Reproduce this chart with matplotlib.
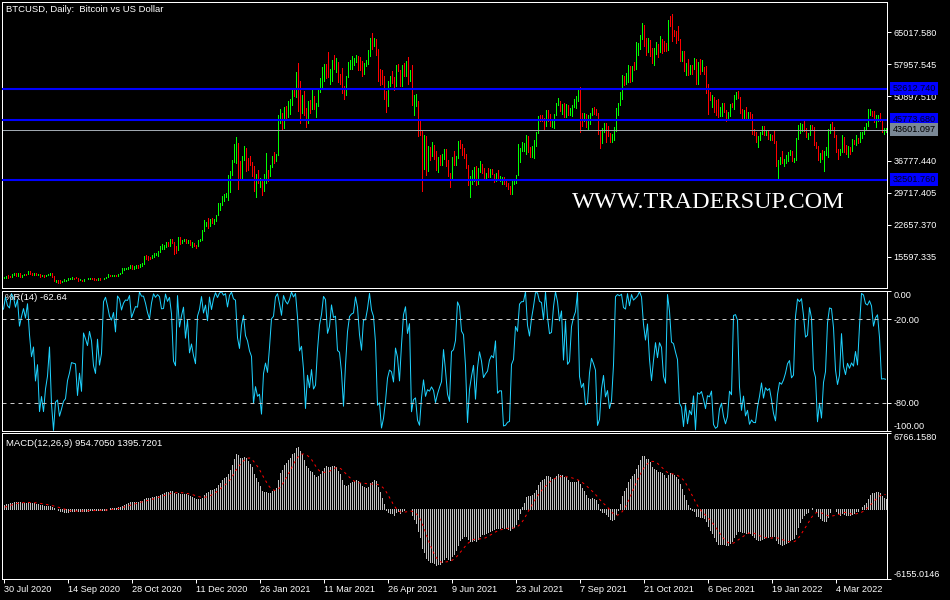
import numpy as np
import pandas as pd
import matplotlib
matplotlib.use("Agg")
import matplotlib.pyplot as plt
import matplotlib.transforms as mtransforms

plt.rcParams['font.family'] = ['Liberation Sans', 'DejaVu Sans']

# ---------------- data (prices in USD thousands, weekday bars) ----------------
start_date = '2020-06-29'      # first bar in data (earlier bars scrolled off the chart)
first_visible = '2020-07-30'   # first bar visible at the left edge
end_date = '2022-04-08'
first_open = 9.10

closes = [
    9.19, 9.14, 9.23, 9.09, 9.06,
    9.35, 9.25, 9.43, 9.23, 9.29,
    9.24, 9.25, 9.19, 9.13, 9.15,
    9.16, 9.39, 9.52, 9.58, 9.54,
    11.00, 10.92, 11.10,
    11.10, 11.35,
    11.23, 11.19, 11.75, 11.77, 11.60,
    11.88, 11.40, 11.58, 11.78, 11.77,
    12.30, 11.95, 11.76, 11.87, 11.55,
    11.75, 11.33, 11.47, 11.33, 11.54,
    11.66, 11.93, 11.40, 10.17, 10.48,
    10.38, 10.13, 10.24, 10.36, 10.40,
    10.68, 10.80, 10.96, 10.95, 10.94,
    10.42, 10.54, 10.24, 10.74, 10.69,
    10.71, 10.84, 10.78, 10.62, 10.57,
    10.79, 10.60, 10.67, 10.92, 11.06,
    11.54, 11.43, 11.43, 11.50, 11.32,
    11.75, 11.91, 12.82, 12.97, 13.03,
    13.07, 13.65, 13.28, 13.46, 13.56,
    13.55, 14.03, 14.14, 15.59, 15.58,
    15.33, 15.30, 15.70, 16.28, 16.32,
    16.72, 17.65, 17.80, 17.82, 18.68,
    18.41, 19.16, 18.73, 17.15, 17.14,
    19.70, 18.77, 19.20, 19.45, 18.70,
    19.17, 18.32, 18.55, 18.25, 18.04,
    19.27, 19.44, 21.35, 22.80, 23.15,
    22.72, 23.82, 23.24, 23.73, 24.71,
    27.04, 27.36, 28.89, 28.99, 29.40,
    31.97, 33.98, 36.82, 39.37, 40.67,
    35.54, 34.05, 37.39, 39.15, 36.82,
    36.63, 35.92, 35.50, 30.83, 33.00,
    32.10, 32.29, 30.43, 33.42, 34.26,
    33.52, 35.51, 37.47, 36.92, 38.28,
    46.45, 46.48, 44.84, 47.97, 47.38,
    47.98, 49.16, 52.15, 51.64, 55.89,
    54.09, 48.88, 49.76, 46.99, 46.14,
    49.60, 48.44, 50.35, 48.37, 48.76,
    52.37, 54.88, 55.96, 57.80, 57.24,
    55.61, 56.43, 58.96, 57.65, 58.03,
    54.53, 54.34, 52.30, 51.30, 55.19,
    57.63, 58.74, 58.92, 59.00, 59.69,
    58.97, 57.08, 56.00, 58.10, 58.10,
    59.83, 63.58, 62.96, 63.12, 61.39,
    56.15, 55.78, 53.74, 51.70, 51.16,
    54.02, 55.03, 54.82, 53.56, 57.75,
    56.63, 53.33, 57.38, 56.47, 57.35,
    55.86, 56.70, 49.15, 49.72, 49.88,
    43.54, 42.91, 37.00, 40.78, 37.30,
    38.70, 38.40, 39.29, 38.55, 35.66,
    37.34, 36.69, 37.57, 39.19, 36.85,
    33.56, 33.41, 37.35, 36.69, 37.34,
    40.22, 40.16, 38.35, 38.09, 35.82,
    31.62, 32.51, 33.69, 34.66, 31.64,
    34.44, 35.87, 35.04, 33.57, 33.90,
    33.80, 34.23, 33.86, 32.88, 33.82,
    32.73, 32.82, 32.82, 31.78, 31.42,
    30.84, 29.79, 32.11, 32.31, 33.58,
    37.30, 39.46, 40.02, 40.03, 42.24,
    39.15, 38.15, 39.75, 40.87, 42.84,
    46.28, 45.59, 45.57, 44.43, 47.82,
    45.95, 44.70, 44.80, 46.72, 49.34,
    49.50, 47.70, 48.99, 46.85, 49.07,
    46.99, 47.13, 48.82, 49.25, 49.95,
    52.70, 46.86, 46.07, 46.37, 44.85,
    44.96, 47.11, 48.14, 47.77, 47.30,
    43.01, 40.70, 43.58, 44.88, 42.84,
    42.17, 41.03, 41.52, 43.79, 48.14,
    49.25, 51.48, 55.33, 53.80, 53.97,
    57.47, 56.01, 57.37, 57.35, 61.67,
    62.01, 64.28, 66.00, 62.21, 60.69,
    63.09, 60.36, 58.48, 60.60, 62.24,
    61.00, 63.23, 62.94, 61.45, 61.01,
    67.55, 66.97, 64.95, 64.83, 64.16,
    63.56, 60.11, 60.37, 56.90, 58.12,
    56.29, 57.57, 57.16, 58.96, 53.73,
    57.81, 56.95, 57.18, 56.48, 53.60,
    50.58, 50.47, 50.58, 47.67, 47.14,
    46.70, 48.34, 48.86, 47.63, 46.20,
    46.88, 48.94, 48.63, 50.78, 50.82,
    50.64, 47.54, 46.46, 47.12, 46.20,
    46.46, 45.81, 43.43, 43.08, 41.56,
    41.82, 42.74, 43.92, 42.59, 43.10,
    42.25, 42.37, 41.66, 40.68, 36.46,
    36.65, 36.95, 36.81, 37.16, 37.71,
    38.48, 38.74, 36.95, 37.15, 41.50,
    43.84, 44.09, 44.34, 43.57, 42.41,
    42.55, 44.58, 43.96, 40.54, 40.00,
    37.02, 38.27, 37.27, 38.35, 39.23,
    43.19, 44.42, 43.92, 42.45, 39.15,
    38.02, 38.74, 41.98, 39.44, 38.79,
    39.67, 39.28, 41.14, 40.95, 41.80,
    41.02, 42.37, 42.90, 44.00, 44.33,
    47.14, 47.46, 47.07, 45.54, 46.28,
    46.62, 45.56, 43.17, 43.44, 43.60,
]

highs = [
    9.23, 9.20, 9.27, 9.28, 9.13,
    9.36, 9.37, 9.45, 9.44, 9.32,
    9.34, 9.28, 9.26, 9.21, 9.19,
    9.21, 9.42, 9.55, 9.62, 9.59,
    11.40, 11.24, 11.20,
    11.17, 11.45,
    11.48, 11.40, 11.80, 11.90, 11.92,
    12.05, 11.95, 11.65, 11.80, 11.85,
    12.45, 12.40, 12.02, 11.90, 11.90,
    11.80, 11.78, 11.53, 11.60, 11.55,
    11.80, 12.07, 11.95, 11.45, 10.55,
    10.40, 10.45, 10.35, 10.58, 10.41,
    10.80, 10.82, 11.10, 11.00, 11.05,
    10.98, 10.58, 10.55, 10.78, 10.78,
    10.95, 10.85, 10.85, 10.90, 10.62,
    10.80, 10.80, 10.70, 10.95, 11.10,
    11.70, 11.56, 11.55, 11.55, 11.55,
    11.80, 12.00, 13.20, 13.18, 13.05,
    13.25, 13.75, 13.85, 13.62, 13.67,
    13.82, 14.05, 14.25, 15.75, 15.95,
    15.85, 15.48, 15.97, 16.35, 16.48,
    16.82, 17.85, 18.48, 18.15, 18.80,
    18.77, 19.40, 19.50, 18.90, 17.85,
    19.85, 19.92, 19.30, 19.55, 19.50,
    19.38, 19.30, 18.80, 18.60, 18.25,
    19.35, 19.55, 21.55, 23.77, 23.28,
    24.10, 23.84, 24.10, 23.80, 24.80,
    27.50, 27.40, 28.95, 29.30, 29.60,
    33.60, 34.40, 36.94, 40.40, 41.95,
    38.30, 36.60, 37.80, 40.00, 39.60,
    37.30, 37.85, 36.40, 35.50, 33.80,
    34.80, 32.90, 32.60, 33.80, 38.50,
    34.70, 35.90, 37.70, 38.70, 38.30,
    46.80, 48.20, 47.30, 48.60, 48.80,
    49.90, 50.40, 52.30, 52.50, 56.30,
    58.35, 54.20, 51.30, 52.00, 48.30,
    49.80, 50.10, 52.60, 51.00, 49.50,
    52.40, 54.90, 57.40, 58.10, 58.00,
    60.60, 56.90, 58.98, 60.10, 59.40,
    58.40, 55.80, 57.20, 53.20, 55.30,
    58.40, 59.00, 59.80, 59.40, 60.10,
    59.90, 59.50, 58.70, 58.20, 58.90,
    61.20, 63.80, 64.80, 63.80, 63.55,
    57.50, 57.00, 56.70, 55.50, 52.10,
    54.30, 55.40, 56.40, 55.20, 57.90,
    58.00, 56.60, 57.80, 58.30, 58.60,
    59.50, 56.80, 57.80, 51.30, 51.50,
    45.80, 45.80, 43.50, 42.40, 42.20,
    39.90, 39.75, 40.80, 40.30, 38.80,
    37.50, 37.90, 38.20, 39.40, 39.30,
    36.80, 34.00, 37.50, 38.80, 37.70,
    41.00, 41.30, 40.50, 39.50, 38.20,
    35.70, 33.30, 34.80, 35.30, 35.50,
    35.20, 36.60, 36.00, 35.10, 33.95,
    35.10, 35.00, 35.00, 33.92, 34.10,
    34.60, 33.30, 33.10, 33.20, 32.25,
    31.90, 31.10, 32.80, 32.60, 33.60,
    40.50, 39.50, 40.90, 40.60, 42.30,
    40.40, 39.70, 39.90, 41.40, 43.00,
    46.50, 46.70, 46.80, 46.20, 47.90,
    47.20, 47.10, 46.00, 46.98, 49.40,
    50.50, 49.90, 49.30, 49.35, 49.15,
    48.90, 48.30, 48.90, 50.40, 51.00,
    52.80, 52.90, 47.30, 47.30, 47.00,
    46.70, 47.20, 48.40, 48.50, 48.10,
    47.30, 43.50, 44.00, 45.00, 45.00,
    44.40, 42.80, 42.60, 44.10, 48.40,
    49.50, 51.90, 55.70, 55.30, 56.10,
    57.80, 57.60, 57.60, 58.50, 62.80,
    62.60, 64.40, 67.00, 66.60, 63.70,
    63.70, 63.30, 61.50, 61.50, 62.90,
    62.40, 64.20, 63.50, 63.10, 62.60,
    67.80, 68.50, 69.00, 65.60, 65.40,
    66.30, 63.60, 60.80, 60.90, 58.30,
    59.20, 57.80, 57.90, 59.30, 59.20,
    58.50, 59.10, 59.00, 57.40, 57.60,
    51.00, 51.90, 51.20, 50.80, 50.00,
    50.30, 48.60, 49.50, 49.40, 47.90,
    47.50, 49.30, 49.50, 51.30, 51.80,
    52.00, 50.70, 48.10, 47.90, 48.50,
    47.50, 47.50, 47.00, 43.70, 43.10,
    42.20, 43.00, 44.30, 44.40, 43.40,
    43.20, 42.70, 42.50, 43.40, 41.10,
    36.90, 37.50, 38.90, 37.20, 38.00,
    38.70, 39.20, 38.80, 37.40, 41.70,
    44.50, 45.00, 44.80, 45.80, 43.90,
    42.80, 44.70, 44.60, 44.20, 40.90,
    39.50, 38.40, 39.20, 38.90, 39.70,
    43.80, 44.90, 45.30, 44.10, 42.50,
    39.40, 39.30, 42.40, 42.00, 40.20,
    39.90, 39.80, 41.50, 41.30, 42.30,
    41.50, 43.00, 42.95, 44.20, 45.00,
    48.20, 48.10, 47.70, 47.60, 46.70,
    46.90, 47.20, 45.60, 43.90, 43.97,
]

lows = [
    9.04, 9.09, 9.11, 9.05, 8.95,
    9.07, 9.21, 9.22, 9.17, 9.17,
    9.18, 9.16, 9.18, 9.09, 9.10,
    9.12, 9.15, 9.30, 9.46, 9.48,
    9.90, 10.60, 10.80,
    10.85, 10.98,
    11.00, 11.05, 11.12, 11.53, 11.40,
    11.45, 11.15, 11.15, 11.50, 11.62,
    11.85, 11.70, 11.55, 11.65, 11.52,
    11.50, 11.15, 11.26, 11.20, 11.30,
    11.55, 11.60, 11.21, 10.16, 9.98,
    9.90, 9.90, 10.10, 10.22, 10.20,
    10.40, 10.63, 10.70, 10.75, 10.82,
    10.35, 10.40, 10.20, 10.20, 10.60,
    10.65, 10.65, 10.65, 10.55, 10.40,
    10.55, 10.55, 10.58, 10.65, 10.85,
    11.30, 11.30, 11.30, 11.28, 11.25,
    11.40, 11.70, 11.90, 12.70, 12.85,
    12.85, 13.05, 12.95, 12.95, 13.15,
    13.20, 13.30, 13.55, 14.10, 15.20,
    14.80, 15.08, 15.28, 15.45, 15.95,
    15.85, 16.55, 17.25, 17.35, 17.75,
    18.00, 18.00, 18.55, 16.30, 16.50,
    18.20, 18.30, 18.55, 18.95, 18.60,
    18.90, 18.15, 17.65, 17.95, 17.60,
    19.00, 19.05, 19.30, 21.25, 22.35,
    22.00, 22.35, 23.10, 22.70, 23.45,
    26.20, 25.85, 27.00, 27.85, 28.70,
    28.13, 29.90, 33.50, 36.50, 36.30,
    30.40, 32.50, 32.40, 36.80, 34.40,
    34.80, 35.80, 33.40, 30.10, 28.85,
    31.90, 30.90, 29.25, 30.00, 31.90,
    32.30, 33.40, 35.40, 36.20, 36.60,
    38.00, 45.00, 43.80, 44.00, 46.20,
    46.40, 47.10, 49.00, 50.90, 50.80,
    47.70, 45.00, 47.20, 46.80, 44.10,
    45.00, 47.20, 48.10, 48.20, 46.30,
    49.30, 51.80, 53.00, 54.30, 55.00,
    55.10, 53.60, 54.20, 57.00, 56.30,
    54.10, 53.60, 51.70, 50.40, 51.30,
    55.60, 57.00, 56.90, 57.90, 58.50,
    56.80, 56.80, 55.50, 55.80, 57.70,
    59.30, 59.80, 61.30, 62.00, 60.00,
    54.20, 53.50, 53.60, 50.40, 47.50,
    48.80, 53.20, 53.90, 52.40, 53.10,
    56.40, 53.10, 53.10, 55.30, 55.40,
    53.60, 54.40, 48.90, 46.90, 48.80,
    42.20, 42.40, 30.00, 35.00, 33.60,
    34.50, 37.00, 37.80, 37.20, 34.70,
    34.20, 35.70, 35.90, 37.20, 35.60,
    33.40, 31.00, 32.40, 35.80, 35.70,
    38.80, 39.50, 38.10, 37.40, 35.20,
    31.30, 28.80, 31.70, 32.30, 31.30,
    33.90, 34.30, 34.00, 32.70, 32.70,
    33.20, 33.20, 33.80, 32.10, 32.30,
    32.70, 32.20, 31.60, 31.60, 31.20,
    30.50, 29.40, 29.50, 31.70, 31.90,
    35.20, 36.40, 38.80, 38.80, 38.30,
    38.70, 37.60, 37.50, 37.40, 39.90,
    43.10, 45.40, 45.40, 43.80, 44.40,
    45.50, 44.40, 44.20, 43.90, 46.70,
    49.00, 47.60, 47.10, 46.40, 46.40,
    46.90, 46.70, 46.60, 48.60, 48.40,
    51.00, 43.00, 44.40, 45.50, 44.20,
    43.40, 44.80, 46.80, 47.10, 46.80,
    42.60, 39.60, 40.60, 43.10, 40.80,
    42.10, 40.90, 40.80, 41.40, 43.20,
    46.90, 49.00, 50.40, 53.40, 53.70,
    54.50, 54.10, 54.40, 56.80, 56.90,
    60.00, 61.40, 63.50, 62.00, 60.00,
    60.70, 59.90, 58.20, 57.90, 60.20,
    59.50, 60.70, 60.40, 60.80, 60.80,
    63.20, 66.30, 63.00, 64.20, 62.60,
    63.30, 58.60, 58.60, 56.50, 55.60,
    55.70, 55.90, 55.90, 57.00, 53.60,
    56.90, 55.90, 56.60, 55.90, 51.70,
    47.10, 50.00, 48.60, 47.40, 46.90,
    46.30, 46.50, 46.60, 47.50, 45.50,
    45.60, 46.60, 48.50, 48.10, 50.40,
    50.50, 47.30, 46.10, 46.00, 45.70,
    45.70, 45.60, 42.70, 42.50, 40.90,
    39.70, 41.30, 42.60, 42.40, 42.30,
    41.60, 41.30, 41.20, 40.60, 35.60,
    33.00, 36.10, 36.30, 35.50, 36.20,
    36.70, 38.00, 36.60, 36.40, 37.00,
    41.90, 42.80, 43.20, 43.20, 42.00,
    41.60, 42.50, 43.40, 40.10, 39.50,
    36.80, 36.40, 37.10, 34.40, 38.00,
    37.50, 42.90, 43.40, 41.90, 38.70,
    37.20, 37.90, 38.60, 38.60, 38.30,
    37.60, 38.20, 38.90, 40.50, 40.20,
    40.60, 40.90, 41.80, 42.60, 43.60,
    46.60, 46.90, 46.50, 45.20, 44.20,
    45.50, 45.40, 43.00, 42.70, 43.10,
]

level_lines = [52612.740, 45773.680, 32501.760]
last_price = 43601.097
price_ticks = [65017.580, 57957.545, 50897.510, 36777.440, 29717.405, 22657.370, 15597.335]
price_range = (8705.0, 71689.0)
date_label_days = ['2020-07-30', '2020-09-14', '2020-10-28', '2020-12-11', '2021-01-26',
                   '2021-03-11', '2021-04-26', '2021-06-09', '2021-07-23', '2021-09-07',
                   '2021-10-21', '2021-12-06', '2022-01-19', '2022-03-04']
wpr_ticks = [0, -20, -80, -100]
wpr_levels = [-20, -80]
macd_range = (-6155.0146, 6766.1580)

title = "BTCUSD, Daily:  Bitcoin vs US Dollar"
wpr_title = "%R(14) -62.64"
macd_title = "MACD(12,26,9) 954.7050 1395.7201"
watermark = "WWW.TRADERSUP.COM"

# ---------------- derived series ----------------
c = np.array(closes) * 1000
h = np.array(highs) * 1000
l = np.array(lows) * 1000
o = np.concatenate([[first_open * 1000], c[:-1]])
dates = pd.bdate_range(start_date, end_date)
x = np.arange(len(c))
x0 = dates.get_loc(pd.Timestamp(first_visible))

cs = pd.Series(c)
macd = cs.ewm(span=12, adjust=False).mean() - cs.ewm(span=26, adjust=False).mean()
signal = macd.rolling(9, min_periods=1).mean()
hh = pd.Series(h).rolling(14, min_periods=1).max()
ll = pd.Series(l).rolling(14, min_periods=1).min()
wpr = -100 * (hh - cs) / (hh - ll)

# ---------------- figure ----------------
W, H = 950, 600
fig = plt.figure(figsize=(W / 100, H / 100), dpi=100, facecolor='black')

def panel(top, bottom, left=2, right=887):
    return fig.add_axes([left / W, 1 - bottom / H, (right - left) / W, (bottom - top) / H])

ax1 = panel(2, 288)
ax2 = panel(291, 431)
ax3 = panel(433, 579)
PX = 0.72
for ax in (ax1, ax2, ax3):
    ax.set_facecolor('black')
    for s in ax.spines.values():
        s.set_color('white')
        s.set_linewidth(PX)
    ax.set_xlim(x0 - 0.75, x0 + 441.75)
    ax.yaxis.tick_right()
    ax.tick_params(axis='y', colors='white', labelcolor='white', labelsize=6.6,
                   length=3, width=PX, pad=1.5, direction='out')
    ax.tick_params(axis='x', bottom=False, labelbottom=False)

# candles
UP = (0.0, 1.0, 0.0, 1.0)
DN = (1.0, 0.0, 0.0, 1.0)
col = [UP if ci >= oi else DN for ci, oi in zip(c, o)]
ax1.vlines(x, l, h, colors=col, linewidth=PX, antialiased=False)
ax1.vlines(x, np.minimum(o, c), np.maximum(o, c), colors=col, linewidth=PX, antialiased=False)
ax1.set_ylim(*price_range)
ax1.set_yticks(price_ticks)
ax1.set_yticklabels([f'{v:.3f}' for v in price_ticks])

trans = mtransforms.blended_transform_factory(ax1.transAxes, ax1.transData)
for lv in level_lines:
    ax1.axhline(lv, color='#0000FF', linewidth=1.5, zorder=3)
    ax1.text(1.0062, lv, f'{lv:.3f}', transform=trans, ha='left', va='center',
             fontsize=6.6, color='#000022', clip_on=False, zorder=6,
             bbox=dict(boxstyle='square,pad=0.22', fc='#0000FF', ec='none'))
ax1.axhline(last_price, color='#A0A8B0', linewidth=PX, zorder=2)
ax1.text(1.0062, last_price, f'{last_price:.3f}', transform=trans, ha='left', va='center',
         fontsize=6.6, color='#000000', clip_on=False, zorder=6,
         bbox=dict(boxstyle='square,pad=0.22', fc='#7A8896', ec='none'))

# Williams %R
ax2.plot(x, wpr, color='#1ED2FF', linewidth=PX)
for lv in wpr_levels:
    ax2.axhline(lv, color='#C8C8C8', linewidth=PX, linestyle=(0, (4, 4)))
ax2.set_ylim(-100, 0)
ax2.set_yticks(wpr_ticks)
ax2.set_yticklabels([f'{v:.2f}' for v in wpr_ticks])
lbls = ax2.get_yticklabels()
lbls[0].set_va('top')
lbls[-1].set_va('bottom')

# MACD
ax3.vlines(x, 0, macd, colors='#C0C0C0', linewidth=PX, antialiased=False)
ax3.plot(x, signal, color='#FF0000', linewidth=PX, linestyle=(0, (2.5, 3.5)))
ax3.set_ylim(*macd_range)
ax3.set_yticks([macd_range[1], macd_range[0]])
ax3.set_yticklabels([f'{macd_range[1]:.4f}', f'{macd_range[0]:.4f}'])
lb3 = ax3.get_yticklabels()
lb3[0].set_va('top')
lb3[1].set_va('bottom')

tick_pos = dates.get_indexer(pd.to_datetime(date_label_days))
tick_lab = [f'{d.day} {d:%b %Y}' for d in pd.to_datetime(date_label_days)]
ax3.set_xticks(tick_pos)
ax3.set_xticklabels(tick_lab)
ax3.tick_params(axis='x', bottom=True, labelbottom=True, colors='white', labelcolor='white',
                length=3, width=PX, pad=1.5, labelsize=6.6, direction='out')
for t in ax3.get_xticklabels():
    t.set_ha('left')

# texts
fig.text(6 / W, 1 - 10 / H, title, color='white', fontsize=6.8, va='center', ha='left')
fig.text(5 / W, 1 - 297.5 / H, wpr_title, color='white', fontsize=6.8, va='center', ha='left')
fig.text(6 / W, 1 - 443 / H, macd_title, color='white', fontsize=6.8, va='center', ha='left')
fig.text(572 / W, 1 - 202 / H, watermark, color='white', fontsize=17.5, va='center', ha='left',
         family=['Liberation Serif', 'DejaVu Serif'])

fig.savefig('out.png', dpi=100, facecolor='black')
